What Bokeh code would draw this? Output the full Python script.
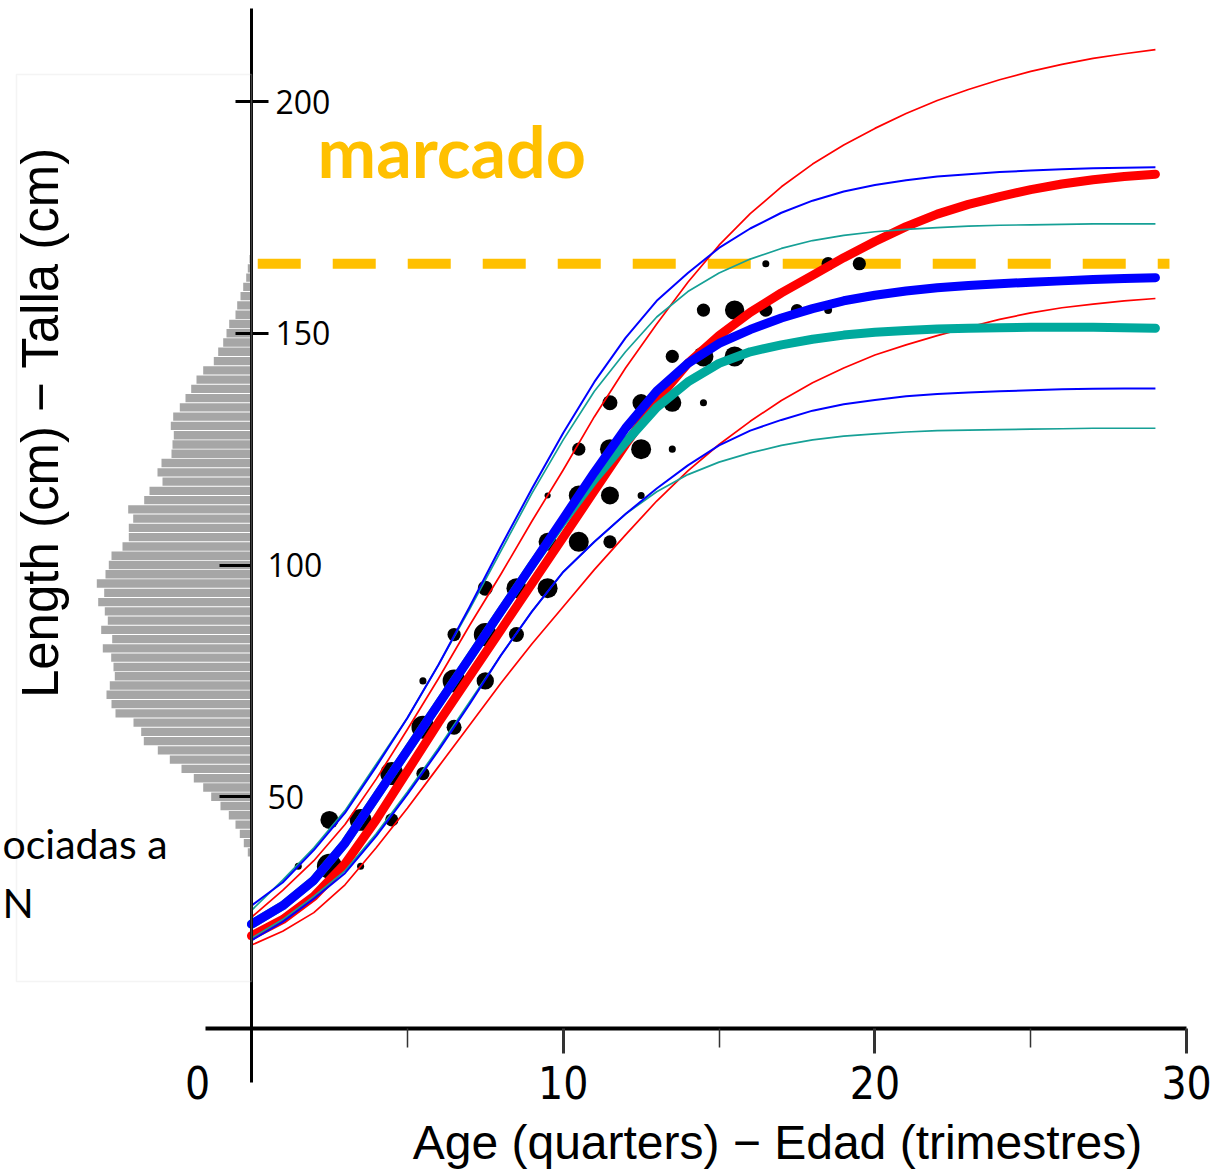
import numpy as np
from bokeh.plotting import figure
from bokeh.models import Range1d, LinearAxis, FixedTicker, Label, BoxAnnotation
from bokeh.embed import file_html
from bokeh.resources import INLINE

# ---------------- data ----------------
ages = [0, 1, 2, 3, 4, 5, 6, 7, 8, 9, 10, 11, 12, 13, 14, 15, 16, 17, 18, 19,
        20, 21, 22, 23, 24, 25, 26, 27, 28, 29]

blue_fit = [22.5, 26.5, 32, 40, 50, 60, 70, 80, 90, 100, 110, 120, 129.5, 137.5, 143.5,
            147.8, 150.8, 153.3, 155.3, 157, 158.2, 159.1, 159.8, 160.3, 160.7, 161,
            161.3, 161.6, 161.8, 162]
blue_upper = [26.5, 31.5, 38.5, 46.5, 56.5, 67, 78.5, 91, 104, 116.5, 128.5, 139.5, 149,
              157, 163, 168.4, 172.6, 176, 178.6, 180.6, 182, 183, 183.8, 184.3, 184.8,
              185.1, 185.4, 185.6, 185.7, 185.8]
blue_lower = [19, 23, 28, 33.5, 41.5, 50.5, 60, 70, 80.5, 90, 98.5, 105, 111, 116.5,
              121.5, 125.8, 129, 131.3, 133.3, 134.7, 135.6, 136.4, 136.9, 137.2, 137.5,
              137.7, 137.9, 138, 138.1, 138.1]

red_fit = [20, 23.5, 28.5, 35.5, 45, 55.5, 66, 76, 86, 96, 106, 116, 126, 135.5, 143.5,
           149.5, 154.5, 158.7, 162.5, 166.3, 169.8, 173, 175.7, 177.8, 179.5, 181, 182.2,
           183.1, 183.8, 184.3]
red_upper = [24, 29.8, 36.2, 44, 53.8, 64.5, 75.5, 87, 98, 109.5, 120.5, 132, 142.5, 152,
             161, 169, 175.8, 181.6, 186.5, 190.6, 194.2, 197.4, 200.2, 202.6, 204.7,
             206.5, 208, 209.3, 210.3, 211.2]
red_lower = [18, 21, 25, 31, 39, 47.5, 56.5, 65.5, 74.5, 83, 91, 99, 106.5, 113.8, 120.3,
             126, 131, 135.5, 139.3, 142.5, 145.3, 147.5, 149.5, 151.3, 153, 154.4, 155.5,
             156.3, 157, 157.5]

teal_fit = [22.5, 26.5, 32, 40, 50, 60, 70, 80, 90, 100, 109.5, 118.5, 126.5, 134,
            139.5, 143.5, 146, 147.5, 148.7, 149.6, 150.2, 150.6, 150.9, 151.1, 151.2,
            151.3, 151.3, 151.3, 151.2, 151.1]
teal_upper = [25.5, 32, 39, 47, 57, 67, 78.5, 90.5, 103, 115.5, 127, 137.5, 146, 153.5,
              159, 163, 166, 168.3, 170, 171.1, 171.9, 172.4, 172.8, 173.1, 173.3, 173.4,
              173.5, 173.6, 173.6, 173.6]
teal_lower = [19.5, 23.5, 28.5, 34, 42, 51, 60.5, 70.5, 80.5, 90, 98.5, 105, 111, 115.8,
              119.5, 122.2, 124.2, 125.8, 127, 127.8, 128.3, 128.7, 129, 129.1, 129.2,
              129.3, 129.4, 129.5, 129.5, 129.5]

# observed mean length-at-age points (age in quarters, length cm, number of fish)
dot_age = [1.5, 2.5, 3.5, 2.5, 3.5, 4.5, 4.5, 5.5, 5.5, 6.5, 5.5, 6.5, 7.5, 6.5, 7.5,
           8.5, 7.5, 8.5, 9.5, 9.5, 10.5, 11.5, 9.5, 10.5, 11.5, 12.5, 10.5, 11.5, 12.5,
           13.5, 11.5, 12.5, 13.5, 14.5, 13.5, 14.5, 15.5, 14.5, 15.5, 16.5, 17.5, 18.5,
           16.5, 18.5, 19.5]
dot_len = [35, 35, 35, 45, 45, 45, 55, 55, 65, 65, 75, 75, 75, 85, 85,
           85, 95, 95, 95, 105, 105, 105, 115, 115, 115, 115, 125, 125, 125,
           125, 135, 135, 135, 135, 145, 145, 145, 155, 155, 155, 155, 155,
           165, 165, 165]
dot_n = [2, 25, 2, 13, 19, 7, 21, 7, 21, 9, 2, 21, 12, 7, 21,
         9, 9, 16, 16, 13, 16, 7, 1.5, 16, 13, 2, 7, 16, 16,
         2, 9, 12, 13, 2, 7, 16, 16, 7, 15, 7, 6, 2.5,
         2, 7, 7]

# length-frequency of tagged fish (bin centre cm, relative frequency)
hist_bins = [38, 40, 42, 44, 46, 48, 50, 52, 54, 56, 58, 60, 62, 64, 66, 68, 70, 72, 74,
             76, 78, 80, 82, 84, 86, 88, 90, 92, 94, 96, 98, 100, 102, 104, 106, 108,
             110, 112, 114, 116, 118, 120, 122, 124, 126, 128, 130, 132, 134, 136, 138,
             140, 142, 144, 146, 148, 150, 152, 154, 156, 158, 160, 162, 164, 166]
hist_freq = [3.7, 7.7, 11.7, 16, 22.7, 31, 40.3, 48.3, 57.7, 70, 81.7, 93.7, 107.7, 110.3,
             118, 136, 140, 145, 141.7, 136.7, 138, 140.3, 148.7, 139.3, 150.3, 143.7,
             146.7, 153.3, 147.3, 154.7, 146, 142.7, 140, 129, 122.7, 122.7, 118.3, 123.3,
             107.3, 102, 89, 94, 90, 80, 79, 77.7, 80.7, 78.3, 71.7, 66, 60.3, 55, 48.3,
             37.7, 33.3, 28.3, 25, 22.3, 16, 14.3, 11, 8.3, 5.3, 3.7, 2]

marcado_len = 165
marcado_ages = [0.2, 29.45]

x_ticks = [10, 20, 30]
x_minor = [5, 15, 25]
y_ticks_a = [150, 200]
y_ticks_b = [50, 100]

# ---------------- layout helpers ----------------
W, H = 1215, 1171
PX0, PXS = 251.0, 31.17     # pixel of age 0, pixels per quarter
PY0, PYS = 1028.0, 4.635    # pixel of 0 cm, pixels per cm


def px2x(px):
    return (px - PX0) / PXS


def px2y(py):
    return (PY0 - py) / PYS


NARROW = "'DejaVu Sans Condensed', 'Liberation Sans', sans-serif"

p = figure(width=W, height=H,
           x_range=Range1d(px2x(0), px2x(W)), y_range=Range1d(px2y(H), px2y(0)),
           x_axis_type=None, y_axis_type=None,
           toolbar_location=None, output_backend="svg", min_border=0)
p.outline_line_color = None
p.background_fill_color = "white"
p.border_fill_color = "white"
p.extra_x_ranges = {"hist": Range1d(start=PX0, end=PX0 - W)}

# histogram of lengths
p.hbar(y=hist_bins, left=0, right=hist_freq, height=1.8, x_range_name="hist",
       fill_color="#A6A6A6", line_color=None)
p.add_layout(BoxAnnotation(left=px2x(16), right=0, bottom=px2y(981), top=px2y(74),
                           fill_alpha=0, line_color="#DCDCDC", line_width=1.5))

# tagging length threshold
p.line(x=marcado_ages, y=[marcado_len, marcado_len], line_color="#FFC000",
       line_width=10, line_dash="43 32")

# observations
sizes = 5.0 * np.sqrt(np.array(dot_n, dtype=float))
p.scatter(x=dot_age, y=dot_len, size=sizes, fill_color="black", line_color=None)

RED, BLUE, TEAL, TEAL_THIN = "#FF0000", "#0000FF", "#00A99D", "#16A096"
for ys in (red_upper, red_lower):
    p.line(ages, ys, line_color=RED, line_width=1.7, line_join="round")
p.line(ages, red_fit, line_color=RED, line_width=9, line_cap="round", line_join="round")
for ys in (teal_upper, teal_lower):
    p.line(ages, ys, line_color=TEAL_THIN, line_width=1.7, line_join="round")
p.line(ages, teal_fit, line_color=TEAL, line_width=9, line_cap="round", line_join="round")
for ys in (blue_upper, blue_lower):
    p.line(ages, ys, line_color=BLUE, line_width=2, line_join="round")
p.line(ages, blue_fit, line_color=BLUE, line_width=9, line_cap="round", line_join="round")

# axes
xax = LinearAxis(fixed_location=0, bounds=(px2x(205), 30),
                 ticker=FixedTicker(ticks=x_ticks, minor_ticks=x_minor))
xax.axis_line_width = 4
xax.axis_line_color = "black"
xax.major_tick_in = 0
xax.major_tick_out = 25
xax.major_tick_line_width = 3
xax.major_tick_line_color = "#333333"
xax.minor_tick_in = 0
xax.minor_tick_out = 19
xax.minor_tick_line_width = 1.5
xax.minor_tick_line_color = "#333333"
xax.major_label_text_font = NARROW
xax.major_label_text_font_size = "44px"
xax.major_label_text_color = "black"
xax.major_label_standoff = 12
p.add_layout(xax, "below")

ya = LinearAxis(fixed_location=0, bounds=(px2y(1082), px2y(8)),
                ticker=FixedTicker(ticks=y_ticks_a, minor_ticks=[]))
ya.axis_line_width = 3
ya.axis_line_color = "black"
ya.major_tick_in = 16
ya.major_tick_out = 17
ya.major_tick_line_width = 3
ya.minor_tick_in = 0
ya.minor_tick_out = 0
ya.major_label_text_font = "Open Sans"
ya.major_label_text_font_size = "32px"
ya.major_label_text_color = "black"
ya.major_label_standoff = 7
p.add_layout(ya, "right")

yb = LinearAxis(fixed_location=0, bounds=(px2y(1082), px2y(8)),
                ticker=FixedTicker(ticks=y_ticks_b, minor_ticks=[]))
yb.axis_line_color = None
yb.major_tick_in = 32
yb.major_tick_out = 0
yb.major_tick_line_width = 3
yb.minor_tick_in = 0
yb.minor_tick_out = 0
yb.major_label_text_font = "Open Sans"
yb.major_label_text_font_size = "32px"
yb.major_label_text_color = "black"
yb.major_label_standoff = 16
p.add_layout(yb, "right")

# texts
p.add_layout(Label(x=px2x(197), y=px2y(1082), text="0", text_align="center",
                   text_baseline="middle", text_font=NARROW,
                   text_font_size="44px", text_color="black"))
p.add_layout(Label(x=px2x(777), y=px2y(1142), text="Age (quarters) \u2212 Edad (trimestres)",
                   text_align="center", text_baseline="middle", text_font="Liberation Sans",
                   text_font_size="48px", text_color="black"))
p.add_layout(Label(x=px2x(40), y=px2y(422), text="Length (cm) \u2212 Talla (cm)",
                   angle=np.pi / 2, text_align="center", text_baseline="middle",
                   text_font="Liberation Sans", text_font_size="51px", text_color="black"))
p.add_layout(Label(x=px2x(317), y=px2y(150), text="marcado", text_align="left",
                   text_baseline="alphabetic", text_font="Lato", text_font_style="bold",
                   text_font_size="70px", text_color="#FFC000"))
p.add_layout(Label(x=px2x(2), y=px2y(843), text="ociadas a", text_align="left",
                   text_baseline="alphabetic", text_font="Lato", text_font_size="41px",
                   text_color="black"))
p.add_layout(Label(x=px2x(2), y=px2y(902), text="N", text_align="left",
                   text_baseline="alphabetic", text_font="Lato", text_font_size="41px",
                   text_color="black"))

open("out.html", "w").write(file_html(p, INLINE))
